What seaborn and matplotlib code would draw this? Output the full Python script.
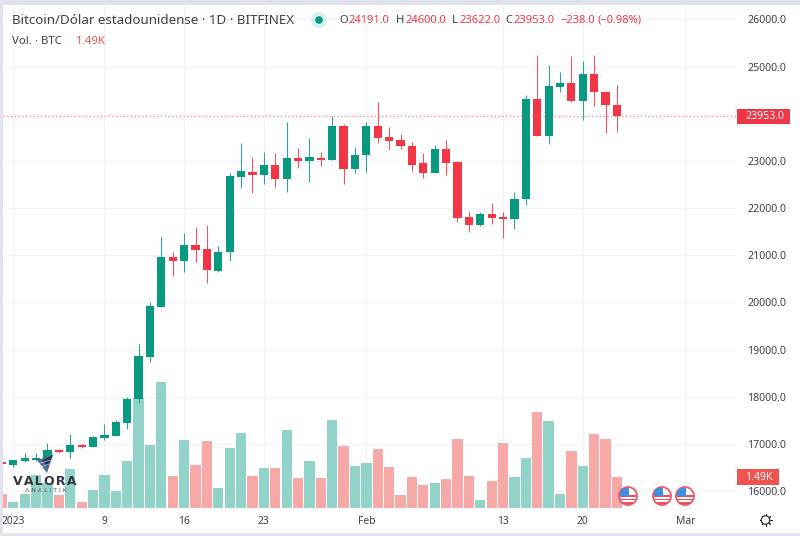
import matplotlib
matplotlib.use("Agg")
import matplotlib.pyplot as plt
from matplotlib.patches import Circle, Polygon, Rectangle
from matplotlib.lines import Line2D
import pandas as pd
import seaborn as sns

# days counted from 1 Jan 2023, first candle is 31 Dec
days = list(range(-1, 54))
opens = [16620, 16551, 16640, 16665, 16680, 16865, 16835, 16975, 16940, 17130, 17175,
         17435, 17950, 18850, 19910, 20963, 20870, 21210, 21127, 20660, 21063, 22665,
         22772, 22708, 22915, 22610, 23055, 22992, 23062, 23014, 23748, 22823, 23126,
         23735, 23508, 23444, 23317, 22950, 22745, 23253, 22970, 21805, 21635, 21875,
         21805, 21769, 22193, 24320, 23530, 24575, 24647, 24270, 24838, 24470, 24191]
highs = [16640, 16660, 16800, 16812, 17010, 16898, 17200, 17000, 17165, 17415, 17505,
         18000, 19110, 20002, 21380, 21062, 21478, 21590, 21650, 21190, 22750, 23375,
         23084, 23183, 23168, 23826, 23275, 23487, 23197, 23953, 23784, 23302, 23820,
         24244, 23714, 23578, 23412, 23160, 23345, 23444, 23005, 21938, 21910, 22108,
         21917, 22335, 24392, 25247, 25029, 24880, 25225, 25126, 25247, 24480, 24600]
lows = [16540, 16516, 16610, 16640, 16670, 16810, 16694, 16920, 16935, 17085, 17170,
        17320, 17873, 18730, 19900, 20560, 20650, 20855, 20418, 20655, 20878, 22433,
        22327, 22510, 22454, 22347, 22850, 22554, 22893, 23010, 22510, 22738, 22766,
        23387, 23240, 23260, 22780, 22633, 22740, 22710, 21710, 21500, 21630, 21670,
        21366, 21563, 22072, 23530, 23355, 24470, 24244, 23870, 24172, 23586, 23622]
closes = [16565, 16651, 16695, 16695, 16875, 16830, 16975, 16940, 17145, 17190, 17457,
          17945, 18863, 19930, 20963, 20870, 21210, 21118, 20690, 21075, 22680, 22780,
          22700, 22915, 22610, 23055, 22992, 23084, 23027, 23748, 22823, 23127, 23735,
          23487, 23430, 23317, 22914, 22745, 23253, 22956, 21790, 21642, 21875, 21790,
          21769, 22200, 24320, 23530, 24590, 24647, 24270, 24838, 24470, 24180, 23953]
volumes = [0.64, 0.29, 0.64, 1.57, 1.2, 0.59, 1.86, 0.29, 0.85, 1.57, 0.82,
           2.24, 5.26, 3.01, 6.04, 1.54, 3.24, 2.05, 3.19, 0.95, 2.88, 3.59,
           1.54, 1.89, 1.89, 3.75, 1.43, 2.24, 1.43, 4.21, 2.96, 2.02, 2.15,
           2.84, 1.94, 0.59, 1.46, 1.11, 1.19, 1.38, 3.32, 1.51, 0.37, 1.28,
           3.11, 1.46, 2.37, 4.62, 4.18, 0.64, 2.71, 2.02, 3.54, 3.32, 1.49]

price_ticks = [16000, 17000, 18000, 19000, 20000, 21000, 22000, 23000, 24000, 25000, 26000]
date_ticks = [0, 8, 15, 22, 31, 43, 50, 59]
date_labels = ["2023", "9", "16", "23", "Feb", "13", "20", "Mar"]

GREEN = "#089981"
RED = "#f23645"
VOL_GREEN = "#92d3c9"
VOL_RED = "#f7a9a8"
GRID = "#f0f3fa"
BORDER = "#e0e3eb"
TEXT = "#3d404a"
FONT = "Noto Sans"

W, H = 800, 536
LEFT, RIGHT, TOP, BOTTOM = 3, 737, 5, 507.7
XLIM = (-0.904, 63.54)
YLIM = (15646, 26307)
VOL_MAX = 24.17

sns.set_theme(style="white")
plt.rcParams["font.family"] = [FONT, "DejaVu Sans"]

df = pd.DataFrame({"day": days, "open": opens, "high": highs, "low": lows,
                   "close": closes, "volume": volumes})
df["up"] = df["close"] >= df["open"]
df["body_low"] = df[["open", "close"]].min(axis=1)
df["body_height"] = (df["close"] - df["open"]).abs()

fig = plt.figure(figsize=(W / 100, H / 100), dpi=100)
rect = [LEFT / W, 1 - BOTTOM / H, (RIGHT - LEFT) / W, (BOTTOM - TOP) / H]

# back: grid and price labels
ax = fig.add_axes(rect, zorder=1)
ax.set_xlim(*XLIM)
ax.set_ylim(*YLIM)
ax.yaxis.tick_right()
ax.set_yticks(price_ticks)
ax.set_yticklabels(["" if p == 24000 else f"{p}.0" for p in price_ticks])
ax.set_xticks(date_ticks)
ax.set_xticklabels(date_labels)
ax.tick_params(axis="y", length=0, pad=7.2, labelsize=7.6, labelcolor=TEXT)
ax.tick_params(axis="x", length=0, pad=6, labelsize=7.4, labelcolor=TEXT)
ax.grid(True, color=GRID, linewidth=0.8)
for spine in ax.spines.values():
    spine.set_visible(False)

# middle: volume
ax_vol = fig.add_axes(rect, zorder=2, sharex=ax)
ax_vol.patch.set_visible(False)
sns.barplot(data=df, x="day", y="volume", hue="up", palette={True: VOL_GREEN, False: VOL_RED},
            native_scale=True, dodge=False, width=0.9, saturation=1, legend=False,
            linewidth=0, ax=ax_vol)
ax_vol.set_ylim(0, VOL_MAX)
ax_vol.set_xlim(*XLIM)
ax_vol.axis("off")

# front: candles
ax_c = fig.add_axes(rect, zorder=3, sharex=ax)
ax_c.patch.set_visible(False)
ax_c.set_ylim(*YLIM)
ax_c.axis("off")
colors = [GREEN if u else RED for u in df["up"]]
ax_c.axhline(closes[-1], color=RED, linewidth=0.9, linestyle=(0, (1, 2)), alpha=0.6)
ax_c.vlines(df["day"], df["low"], df["high"], colors=colors, linewidth=0.8, alpha=0.85)
ax_c.bar(df["day"], df["body_height"], bottom=df["body_low"], width=0.72, color=colors, linewidth=0)
ax_c.set_xlim(*XLIM)

# screenshot chrome in pixel coordinates
ov = fig.add_axes([0, 0, 1, 1], zorder=4)
ov.patch.set_visible(False)
ov.set_xlim(0, W)
ov.set_ylim(H, 0)
ov.axis("off")
ov.add_patch(Rectangle((0, 0), 3, H, color=BORDER, linewidth=0))
ov.add_patch(Rectangle((0, 0), W, 5, color=BORDER, linewidth=0))
ov.add_patch(Rectangle((0, 533), W, 3, color=BORDER, linewidth=0))

ov.text(12, 20, "Bitcoin/Dólar estadounidense · 1D · BITFINEX", fontsize=9.64, color=TEXT, va="center")
ov.add_patch(Circle((319, 20), 8, color="#d5efeb", linewidth=0))
ov.add_patch(Circle((319, 20), 3.8, color=GREEN, linewidth=0))
ohlc = [(339, "O", TEXT), (348, "24191.0", RED), (396, "H", TEXT), (405, "24600.0", RED),
        (452, "L", TEXT), (459, "23622.0", RED), (505, "C", TEXT), (513, "23953.0", RED),
        (560, "−238.0", RED), (598, "(−0.98%)", RED)]
for x, s, c in ohlc:
    ov.text(x, 20.5, s, fontsize=8, color=c, va="center")
ov.text(12, 41, "Vol. · BTC", fontsize=8.2, color=TEXT, va="center")
ov.text(76, 41, "1.49K", fontsize=8.2, color="#ef5350", va="center")

# last price and volume tags
ov.add_patch(Rectangle((737, 109), 53, 15, color=RED, linewidth=0))
ov.text(765, 116.3, "23953.0", fontsize=7.6, color="white", weight="bold", ha="center", va="center")
ov.add_patch(Rectangle((737, 469), 42, 16, color="#ef5350", linewidth=0))
ov.text(759, 477, "1.49K", fontsize=7.6, color="white", weight="bold", ha="center", va="center")

# event flags
for fx in [628, 662, 685]:
    ring = Circle((fx, 496), 9, facecolor="white", edgecolor="#ee5566", linewidth=1.3)
    ov.add_patch(ring)
    for dy in [-1, 2.5, 6]:
        stripe = Rectangle((fx - 8, 496 + dy), 16, 1.6, color="#e8505b", linewidth=0)
        ov.add_patch(stripe)
        stripe.set_clip_path(ring)
    canton = Rectangle((fx - 8, 488), 9, 8, color="#3f8fe0", linewidth=0)
    ov.add_patch(canton)
    canton.set_clip_path(ring)

# settings gear
ov.add_line(Line2D([765.5], [520], marker=(4, 2, 0), markersize=8.5, markeredgecolor="#222222",
                   markeredgewidth=0.7, linestyle="none"))
ov.add_line(Line2D([765.5], [520], marker=(4, 2, 45), markersize=8.5, markeredgecolor="#222222",
                   markeredgewidth=0.7, linestyle="none"))
ov.add_patch(Circle((765.5, 520), 4.2, facecolor="white", edgecolor="#222222", linewidth=0.8, zorder=5))

# watermark
ov.add_patch(Polygon([(37, 460), (53, 455), (47, 473)], closed=True, facecolor="#4f6d9c", linewidth=0))
ov.add_patch(Polygon([(42, 460.5), (53, 455), (47.5, 466)], closed=True, facecolor="#26334f", linewidth=0))
for x0, y0, x1, y1 in [(39, 463.5, 50, 460), (41, 467, 49, 464)]:
    ov.plot([x0, x1], [y0, y1], color="white", linewidth=0.5, alpha=0.7)
ov.set_xlim(0, W)
ov.set_ylim(H, 0)
ov.text(45, 481.7, "\u200a".join("VALORA"), fontsize=9, weight="bold", color="#36363e",
        family=["DejaVu Sans"], ha="center", va="center")
ov.text(46, 491, "A N A L I T I K", fontsize=4.4, color="#55555c",
        family=["DejaVu Sans"], ha="center", va="center")

fig.savefig("out.png", dpi=100, facecolor="white")
